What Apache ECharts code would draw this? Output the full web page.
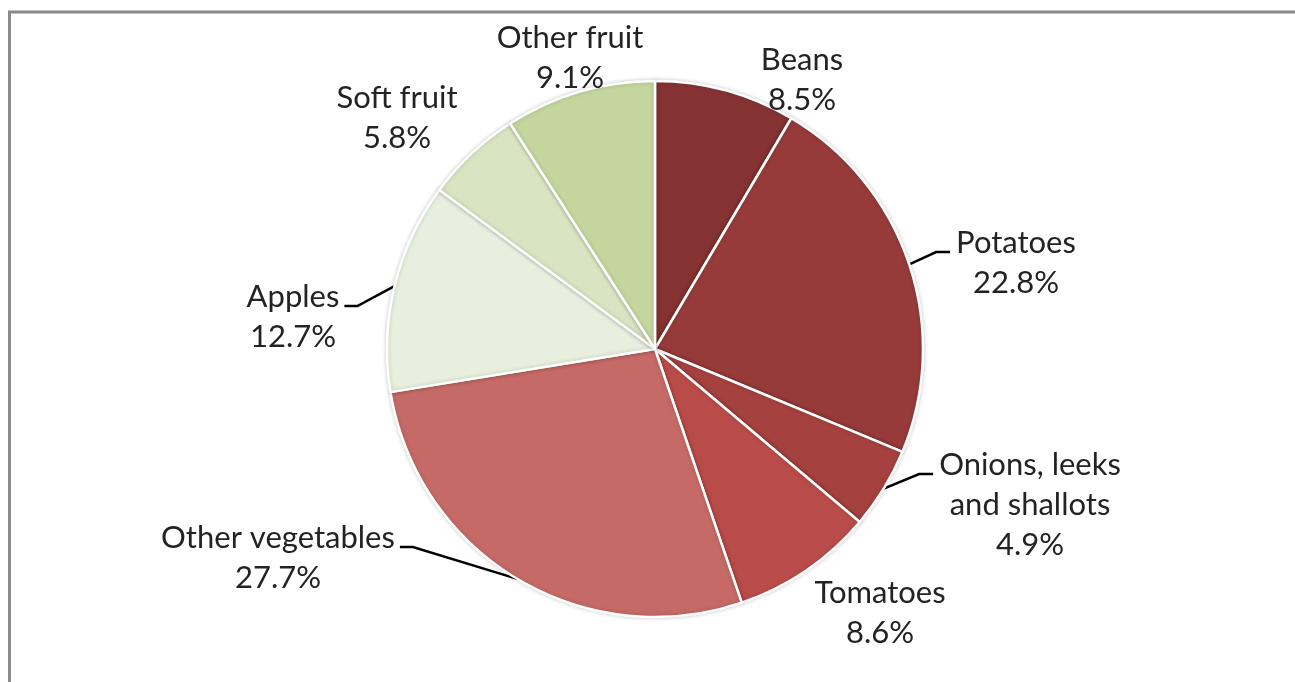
<!DOCTYPE html>
<html>
<head>
<meta charset="utf-8">
<script src="https://cdn.jsdelivr.net/npm/echarts@6/dist/echarts.min.js"></script>
<style>
  html, body { margin: 0; padding: 0; background: #fff; }
  #chart { width: 1295px; height: 682px; }
</style>
</head>
<body>
<div id="chart"></div>
<script>
// Share of production by crop (%), clockwise from 12 o'clock
const categories = ['Beans', 'Potatoes', 'Onions, leeks and shallots', 'Tomatoes',
                    'Other vegetables', 'Apples', 'Soft fruit', 'Other fruit'];
const shares = [8.5, 22.8, 4.9, 8.6, 27.7, 12.7, 5.8, 9.1];

// Text shown for each label (line breaks where the name wraps)
const labelNames = ['Beans', 'Potatoes', 'Onions, leeks\nand shallots', 'Tomatoes',
                    'Other vegetables', 'Apples', 'Soft fruit', 'Other fruit'];

// Vegetables in reds, fruit in greens
const sliceColors = ['#843332', '#963b3a', '#a5413f', '#b94c49',
                     '#c56a67', '#e9efdf', '#d9e4c2', '#c4d69d'];

// Label placement: centre of each text block, and which labels get a leader line
const labelCentres = [[802, 80], [1016, 263], [1030, 505], [880, 613],
                      [278, 558], [293, 317], [397, 118], [570, 58]];
const hasLeader = [false, true, true, false, true, true, false, false];

const LINE_H = 40;

const chart = echarts.init(document.getElementById('chart'));

chart.setOption({
  backgroundColor: '#ffffff',
  animation: false,
  graphic: [{
    type: 'rect',
    shape: { x: 9.5, y: 12, width: 1400, height: 800 },
    style: { fill: 'none', stroke: '#8a8a8a', lineWidth: 3 },
    silent: true,
    z: 0
  }],
  series: [{
    type: 'pie',
    center: [655, 349],
    radius: 268,
    startAngle: 90,
    clockwise: true,
    avoidLabelOverlap: false,
    itemStyle: {
      borderColor: '#ffffff',
      borderWidth: 2.5,
      shadowBlur: 4,
      shadowColor: 'rgba(0,0,0,0.18)'
    },
    label: {
      show: true,
      position: 'outside',
      fontFamily: 'Lato',
      fontSize: 31,
      lineHeight: LINE_H,
      color: '#232323',
      formatter: p => labelNames[p.dataIndex] + '\n' + p.value.toFixed(1) + '%'
    },
    labelLine: {
      lineStyle: { color: '#000000', width: 2.5 }
    },
    labelLayout: function (params) {
      const i = params.dataIndex;
      const [cx, cy] = labelCentres[i];
      const out = { x: cx, y: cy, align: 'center', verticalAlign: 'middle' };
      if (hasLeader[i] && params.labelLinePoints) {
        const nLines = labelNames[i].split('\n').length + 1;
        const firstLineY = cy - (nLines - 1) * LINE_H / 2;
        const lineY = firstLineY + 9;
        const halfW = params.labelRect.width / 2;
        const edge = params.labelLinePoints[0];
        const rightSide = cx > 655;
        const endX = rightSide ? cx - halfW - 6 : cx + halfW + 5;
        const elbowX = rightSide ? endX - 14 : endX + 13;
        out.labelLinePoints = [edge, [elbowX, lineY], [endX, lineY]];
      }
      return out;
    },
    data: categories.map((name, i) => ({
      name,
      value: shares[i],
      itemStyle: { color: sliceColors[i] },
      labelLine: { show: hasLeader[i] }
    }))
  }]
});
</script>
</body>
</html>
